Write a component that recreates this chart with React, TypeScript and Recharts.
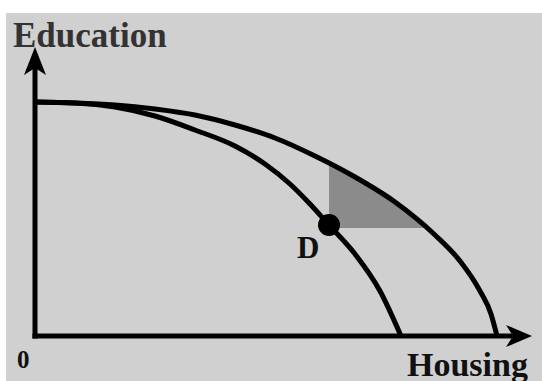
import React from "react";
import {
    ComposedChart,
    Line,
    Area,
    XAxis,
    YAxis,
    ReferenceDot,
    ReferenceLine
} from "recharts";

// Production possibility frontiers: housing (x) against education (y)
const outerHousing = [0, 40, 80, 120, 160, 200, 240, 280, 320, 360, 400, 425, 445, 456, 462];
const outerEducation = [234, 233, 231, 227, 221, 211, 198, 180, 159, 134, 101, 75, 45, 22, 0];

const innerHousing = [0, 40, 80, 120, 160, 200, 230, 255, 275, 294, 320, 345, 366];
const innerEducation = [234, 233, 229, 220, 206, 190, 172, 152, 132, 111, 82, 45, 0];

// Gains available from point D, up to the outer frontier
const gainHousing = [294, 320, 360, 391];
const gainEducation = [172, 159, 134, 108];
const gainBase = 108;

const pointD = { x: 294, y: 111 };

const X_MAX = 478;
const Y_MAX = 268;

const toPoints = (xs: number[], ys: number[]) => xs.map((x, i) => ({ x, y: ys[i] }));

const outerData = toPoints(outerHousing, outerEducation);
const innerData = toPoints(innerHousing, innerEducation);
const gainData = toPoints(gainHousing, gainEducation);

const font = "'Liberation Serif', 'DejaVu Serif', serif";

// arrowheads sit on the axis end, tip pointing outwards
const ArrowRight = (props: any) => {
    const { cx, cy } = props;
    return <path d={`M${cx + 19},${cy} L${cx - 7},${cy - 11} L${cx},${cy} L${cx - 7},${cy + 11} Z`} fill="#000" />;
};

const ArrowUp = (props: any) => {
    const { cx, cy } = props;
    return <path d={`M${cx},${cy - 21} L${cx - 11},${cy + 7} L${cx},${cy} L${cx + 11},${cy + 7} Z`} fill="#000" />;
};

export default function App() {
    return (
        <div style={{ position: "absolute", left: 0, top: 0, width: 542, height: 381, background: "#fff", overflow: "hidden" }}>
            <div style={{ position: "absolute", left: 6, top: 13, right: 0, bottom: 0, background: "#d0d0d0" }} />
            <div style={{ position: "absolute", left: 0, top: 0 }}>
                <ComposedChart width={542} height={381} margin={{ top: 68, right: 29, bottom: 45, left: 35 }}>
                    <XAxis type="number" dataKey="x" domain={[0, X_MAX]} hide />
                    <YAxis type="number" dataKey="y" domain={[0, Y_MAX]} hide />
                    <Area
                        data={gainData}
                        dataKey="y"
                        type="monotone"
                        baseValue={gainBase}
                        fill="#8b8b8b"
                        fillOpacity={1}
                        stroke="none"
                        isAnimationActive={false}
                    />
                    <Line
                        data={innerData}
                        dataKey="y"
                        type="monotone"
                        stroke="#000"
                        strokeWidth={5}
                        dot={false}
                        isAnimationActive={false}
                    />
                    <Line
                        data={outerData}
                        dataKey="y"
                        type="monotone"
                        stroke="#000"
                        strokeWidth={5}
                        dot={false}
                        isAnimationActive={false}
                    />
                    {/* axes */}
                    <ReferenceLine y={0} stroke="#000" strokeWidth={5} strokeLinecap="square" />
                    <ReferenceLine x={0} stroke="#000" strokeWidth={5} strokeLinecap="square" />
                    <ReferenceDot x={pointD.x} y={pointD.y} r={11} fill="#000" stroke="none" />
                    <ReferenceDot x={X_MAX} y={0} shape={ArrowRight} />
                    <ReferenceDot x={0} y={Y_MAX} shape={ArrowUp} />
                </ComposedChart>
            </div>
            <svg width={542} height={381} style={{ position: "absolute", left: 0, top: 0 }}>
                <text x={13} y={47} fontFamily={font} fontWeight="bold" fontSize={35} fill="#333">Education</text>
                <text x={407} y={376} fontFamily={font} fontWeight="bold" fontSize={34} fill="#111">Housing</text>
                <text x={17} y={368} fontFamily={font} fontWeight="bold" fontSize={25} fill="#111">0</text>
                <text x={297} y={258} fontFamily={font} fontWeight="bold" fontSize={31} fill="#111">D</text>
            </svg>
        </div>
    );
}
